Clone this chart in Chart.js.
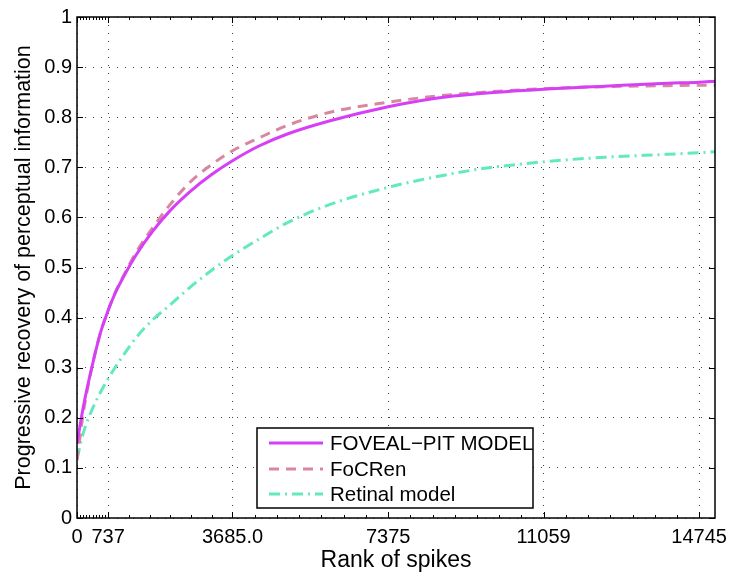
<!DOCTYPE html>
<html>
<head>
<meta charset="utf-8">
<script src="https://cdn.jsdelivr.net/npm/chart.js@4"></script>
<style>
  html, body { margin: 0; padding: 0; background: #fff; }
  #wrap { width: 730px; height: 574px; }
</style>
</head>
<body>
<div id="wrap"><canvas id="grafico" width="730" height="574"></canvas></div>
<script>
// rank of spikes (x) and recovery values for the three models
let rank = [0, 150, 350, 550, 737, 900, 1100, 1400, 1800, 2200, 2700, 3200, 3685,
            4300, 5000, 6000, 7375, 8500, 9500, 11059, 12500, 14000, 14745, 15120];
let foveal = [0.148, 0.222, 0.300, 0.368, 0.414, 0.448, 0.481, 0.525, 0.573, 0.613, 0.653, 0.686, 0.713,
              0.742, 0.767, 0.793, 0.821, 0.838, 0.847, 0.856, 0.862, 0.868, 0.870, 0.872];
let focren = [0.115, 0.210, 0.300, 0.368, 0.414, 0.449, 0.483, 0.530, 0.580, 0.625, 0.672, 0.706, 0.733,
              0.758, 0.784, 0.810, 0.830, 0.842, 0.849, 0.857, 0.861, 0.863, 0.864, 0.864];
let retinal = [0.118, 0.170, 0.215, 0.250, 0.278, 0.300, 0.325, 0.360, 0.396, 0.425, 0.462, 0.495, 0.524,
               0.556, 0.590, 0.626, 0.660, 0.681, 0.696, 0.711, 0.720, 0.726, 0.729, 0.731];

let etichette = ['FOVEAL\u2212PIT MODEL', 'FoCRen', 'Retinal model'];

let xTicks = [0, 737, 3685, 7375, 11059, 14745];
let xTickLabels = ['0', '737', '3685.0', '7375', '11059', '14745'];
let yTicks = [0, 0.1, 0.2, 0.3, 0.4, 0.5, 0.6, 0.7, 0.8, 0.9, 1];
let yTickLabels = ['0', '0.1', '0.2', '0.3', '0.4', '0.5', '0.6', '0.7', '0.8', '0.9', '1'];

let font = 'Liberation Sans, Arial, Helvetica, sans-serif';

function punti(ys) {
    return rank.map((x, i) => ({ x: x, y: ys[i] }));
}

// box, inward tick marks and legend in MATLAB style
let cornice = {
    id: 'cornice',
    afterDraw(chart) {
        let ctx = chart.ctx;
        let a = chart.chartArea;
        let sx = chart.scales.x, sy = chart.scales.y;
        ctx.save();
        ctx.strokeStyle = '#000';
        ctx.lineWidth = 1;
        ctx.setLineDash([]);

        // major ticks
        ctx.beginPath();
        xTicks.forEach(v => {
            let px = Math.round(sx.getPixelForValue(v)) + 0.5;
            ctx.moveTo(px, a.bottom); ctx.lineTo(px, a.bottom - 6);
            ctx.moveTo(px, a.top); ctx.lineTo(px, a.top + 6);
        });
        yTicks.forEach(v => {
            let py = Math.round(sy.getPixelForValue(v)) + 0.5;
            ctx.moveTo(a.left, py); ctx.lineTo(a.left + 6, py);
            ctx.moveTo(a.right, py); ctx.lineTo(a.right - 6, py);
        });
        ctx.stroke();

        // minor ticks, split of each major interval
        let parti = [10, 6, 7, 7, 7];
        ctx.beginPath();
        for (let k = 0; k < xTicks.length - 1; k++) {
            let passo = (xTicks[k + 1] - xTicks[k]) / parti[k];
            for (let j = 1; j < parti[k]; j++) {
                let px = Math.round(sx.getPixelForValue(xTicks[k] + j * passo)) + 0.5;
                ctx.moveTo(px, a.bottom); ctx.lineTo(px, a.bottom - 3);
                ctx.moveTo(px, a.top); ctx.lineTo(px, a.top + 3);
            }
        }
        ctx.stroke();

        // box
        ctx.lineWidth = 1.5;
        ctx.strokeRect(a.left, a.top, a.right - a.left, a.bottom - a.top);

        // legend
        let lx = 257, ly = 428, lw = 276, lh = 80;
        ctx.fillStyle = '#fff';
        ctx.fillRect(lx, ly, lw, lh);
        ctx.lineWidth = 1.5;
        ctx.strokeRect(lx, ly, lw, lh);
        let righe = [443, 469, 494];
        chart.data.datasets.forEach((ds, i) => {
            ctx.strokeStyle = ds.borderColor;
            ctx.lineWidth = ds.borderWidth;
            ctx.setLineDash(ds.borderDash || []);
            ctx.beginPath();
            ctx.moveTo(269, righe[i]);
            ctx.lineTo(323, righe[i]);
            ctx.stroke();
            ctx.setLineDash([]);
            ctx.fillStyle = '#000';
            ctx.font = '20.5px ' + font;
            ctx.textBaseline = 'middle';
            ctx.textAlign = 'left';
            ctx.fillText(ds.label, 330, righe[i] + 1);
        });
        ctx.restore();
    }
};

let dati = {
    datasets: [
        { label: etichette[0], data: punti(foveal), borderColor: '#d63ff6', borderWidth: 3 },
        { label: etichette[1], data: punti(focren), borderColor: '#d9879f', borderWidth: 3, borderDash: [10, 7] },
        { label: etichette[2], data: punti(retinal), borderColor: '#62e9be', borderWidth: 3, borderDash: [11, 5, 2, 5] }
    ]
};

let config = {
    type: 'line',
    data: dati,
    options: {
        responsive: false,
        animation: false,
        layout: { padding: { top: 16, right: 15, left: 0, bottom: 0 } },
        elements: {
            point: { radius: 0 },
            line: { cubicInterpolationMode: 'monotone', fill: false }
        },
        plugins: {
            legend: { display: false },
            tooltip: { enabled: false }
        },
        scales: {
            x: {
                type: 'linear',
                min: 0,
                max: 15120,
                afterBuildTicks: s => { s.ticks = xTicks.map(v => ({ value: v })); },
                afterFit: s => { s.height = 56; s.paddingLeft = 0; s.paddingRight = 0; },
                ticks: {
                    autoSkip: false,
                    maxRotation: 0,
                    padding: 7,
                    color: '#000',
                    font: { family: font, size: 20 },
                    callback: v => xTickLabels[xTicks.indexOf(v)]
                },
                grid: { color: '#444', lineWidth: 1, drawTicks: false },
                border: { display: false, dash: [1, 7] },
                title: {
                    display: true,
                    text: 'Rank of spikes',
                    color: '#000',
                    font: { family: font, size: 23 },
                    padding: { top: 0, bottom: 0 }
                }
            },
            y: {
                min: 0,
                max: 1,
                afterBuildTicks: s => { s.ticks = yTicks.map(v => ({ value: v })); },
                afterFit: s => { s.width = 77; },
                ticks: {
                    padding: 5,
                    color: '#000',
                    font: { family: font, size: 20 },
                    callback: (v, i) => yTickLabels[i]
                },
                grid: { color: '#444', lineWidth: 1, drawTicks: false },
                border: { display: false, dash: [1, 7] },
                title: {
                    display: true,
                    text: 'Progressive recovery of perceptual information',
                    color: '#000',
                    font: { family: font, size: 21.5 },
                    padding: { top: 11, bottom: 0 }
                }
            }
        }
    },
    plugins: [cornice]
};

let ctx = document.getElementById('grafico').getContext('2d');
new Chart(ctx, config);
</script>
</body>
</html>
